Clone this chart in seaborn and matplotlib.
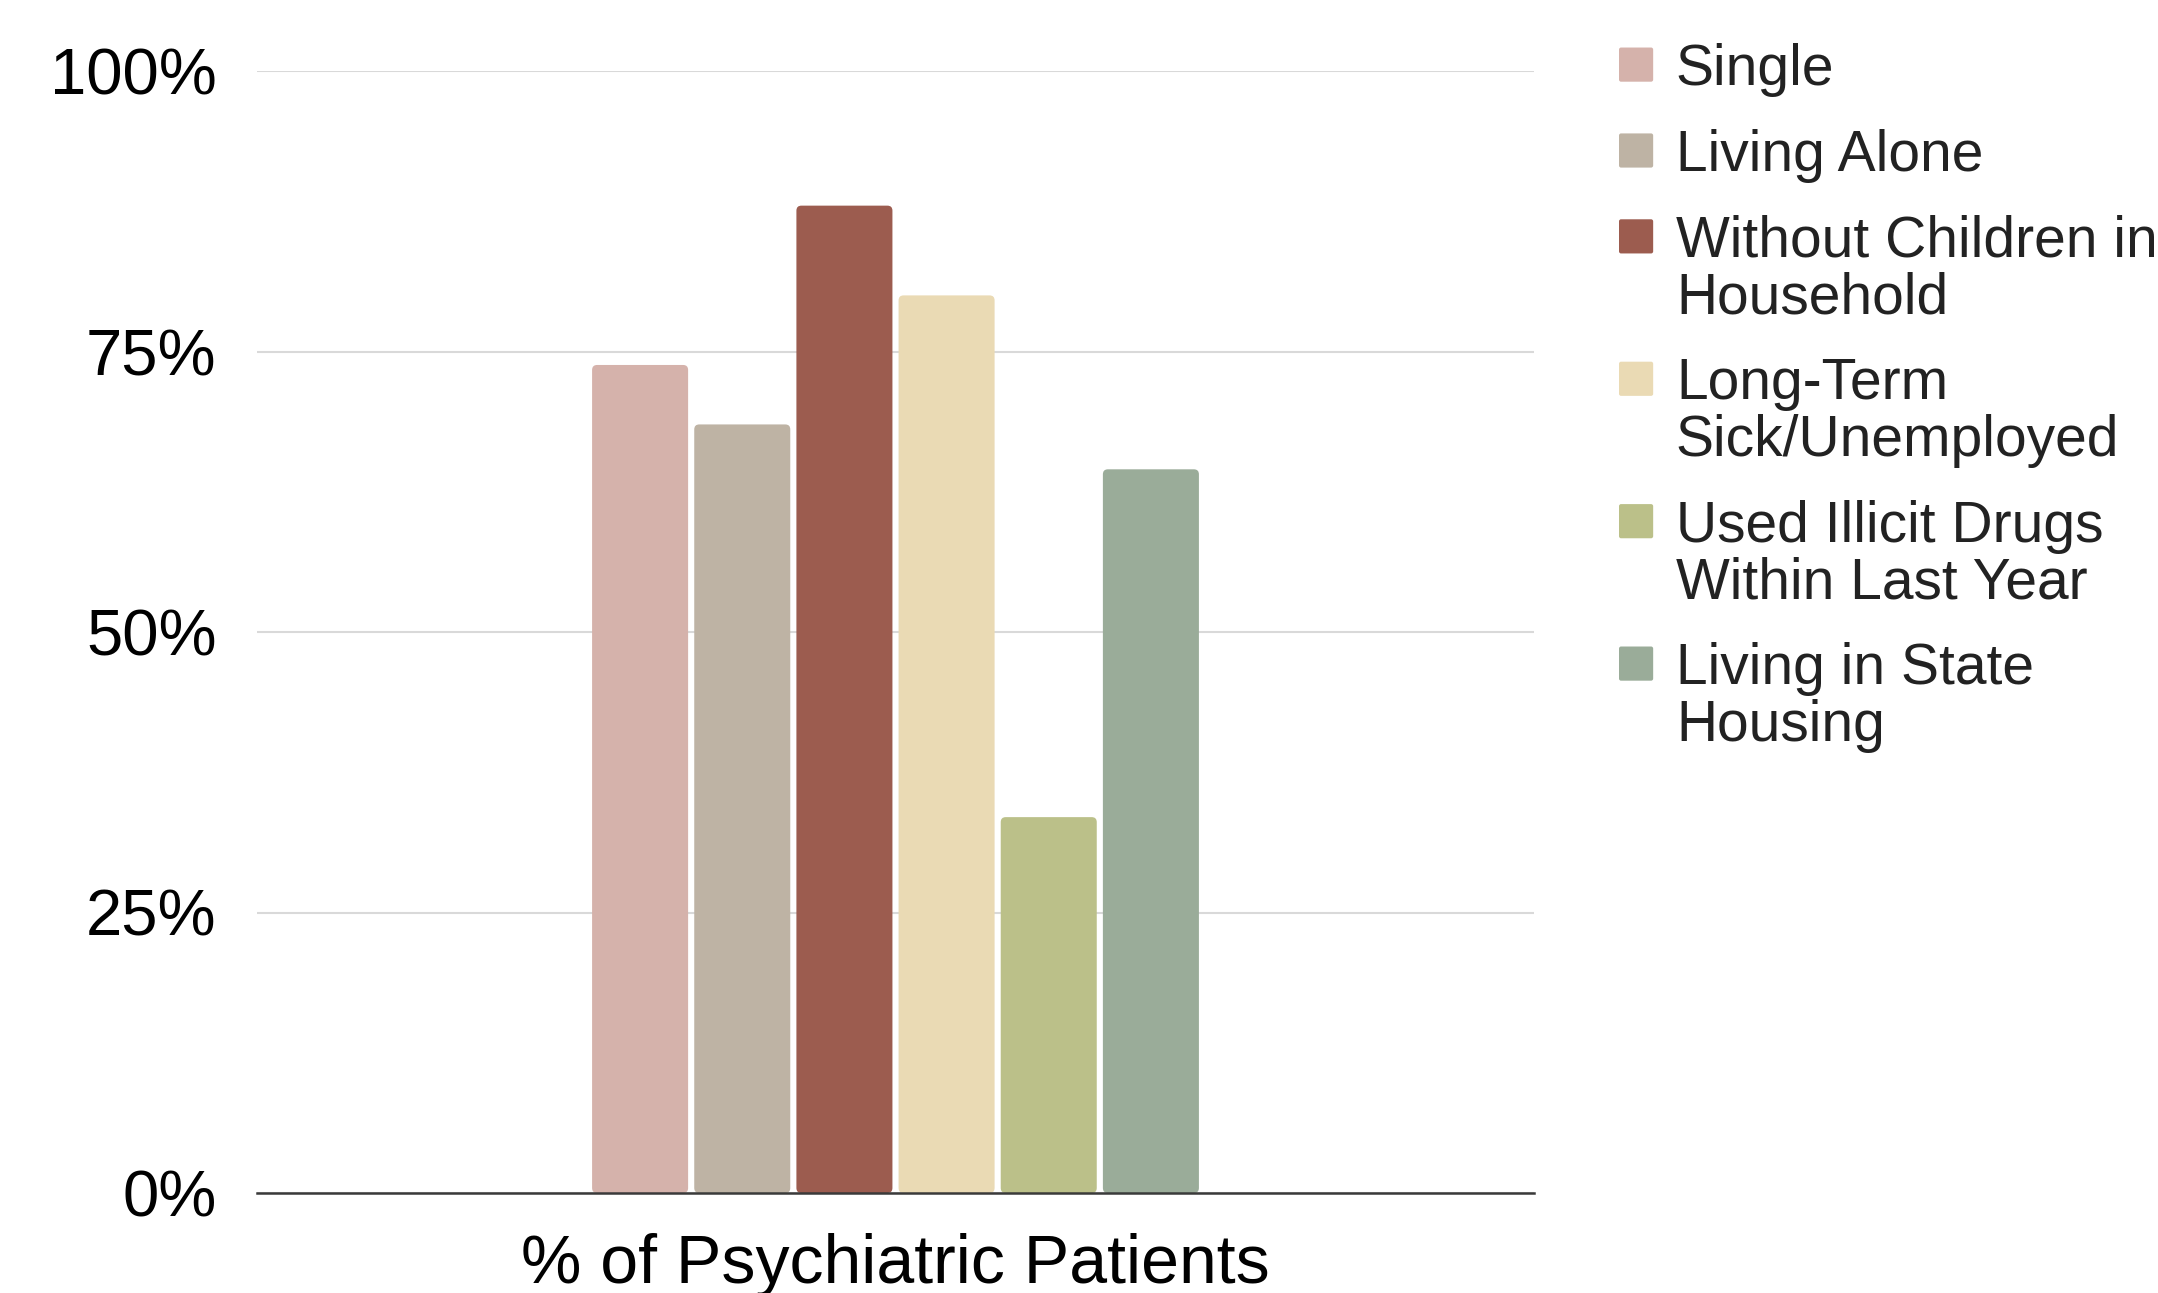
import matplotlib
matplotlib.use("Agg")
import matplotlib.pyplot as plt
import seaborn as sns
import pandas as pd
from matplotlib.patches import FancyBboxPatch
from matplotlib.legend_handler import HandlerBase
from matplotlib.ticker import FuncFormatter

# Share of psychiatric patients with each characteristic (%)
categories = [
    "Single",
    "Living Alone",
    "Without Children in\nHousehold",
    "Long-Term\nSick/Unemployed",
    "Used Illicit Drugs\nWithin Last Year",
    "Living in State\nHousing",
]
values = [73.8, 68.5, 88.0, 80.0, 33.5, 64.5]
group_label = "% of Psychiatric Patients"
colors = ["#d5b2ab", "#beb3a4", "#9c5c4f", "#eadab4", "#bbc089", "#9aac99"]
y_ticks = [0, 25, 50, 75, 100]

df = pd.DataFrame({"group": [group_label] * len(categories),
                   "category": categories,
                   "value": values})

sns.set_style("white")
plt.rcParams["font.family"] = ["Liberation Sans", "DejaVu Sans"]

W, H = 2158, 1293
fig = plt.figure(figsize=(W / 100, H / 100), dpi=100)
ax = fig.add_axes([257 / W, 1 - 1193 / H, (1534 - 257) / W, (1193 - 71) / H])

sns.barplot(data=df, x="group", y="value", hue="category",
            hue_order=categories, palette=colors, width=0.48, gap=0.06,
            saturation=1, ax=ax, legend=False, zorder=2)

ax.set_xlim(-0.5, 0.5)
ax.set_ylim(0, 100)

# swap plain rectangles for ones with slightly rounded corners
px_x = (1534 - 257) / 1.0
px_y = (1193 - 71) / 100.0
aspect = px_x / px_y
bars = list(ax.patches)
for bar, color in zip(bars, colors):
    x, y = bar.get_x(), bar.get_y()
    w, h = bar.get_width(), bar.get_height()
    bar.remove()
    ax.add_patch(FancyBboxPatch((x, y), w, h,
                                boxstyle=f"round,pad=0,rounding_size={5 / px_x}",
                                mutation_aspect=aspect,
                                facecolor=color, edgecolor="none", zorder=2))

# axes styling
ax.set_yticks(y_ticks)
ax.yaxis.set_major_formatter(FuncFormatter(lambda v, _: f"{v:.0f}%"))
ax.grid(axis="y", color="#d9d9d9", linewidth=1.5, zorder=0)
ax.grid(axis="x", visible=False)
ax.set_axisbelow(True)
for side in ["left", "right", "top"]:
    ax.spines[side].set_visible(False)
ax.spines["bottom"].set_color("#3a3a3a")
ax.spines["bottom"].set_linewidth(1.8)
ax.spines["bottom"].set_zorder(5)
ax.tick_params(axis="y", length=0, pad=29, labelsize=47, labelcolor="#000000")
ax.tick_params(axis="x", length=0, pad=29, labelsize=49, labelcolor="#000000")
ax.set_xlabel("")
ax.set_ylabel("")


class SquareHandler(HandlerBase):
    """Legend swatch aligned with the first line of a (possibly wrapped) label."""

    def __init__(self, lift):
        super().__init__()
        self.lift = lift

    def create_artists(self, legend, orig_handle, xdescent, ydescent,
                       width, height, fontsize, trans):
        side = width
        cy = 0.358 * fontsize + self.lift
        patch = FancyBboxPatch((-xdescent, cy - side / 2), side, side,
                               boxstyle="round,pad=0,rounding_size=1.5",
                               facecolor=orig_handle.get_facecolor(),
                               edgecolor="none", transform=trans)
        return [patch]


legend_fs = 41
line_pitch_pt = 56.5 * 0.72
# wrapped labels are centred on their handle, so raise the swatch to line one
handles = [plt.Rectangle((0, 0), 1, 1, facecolor=c) for c in colors]
handler_map = {h: SquareHandler(0.5 * lab.count("\n") * (line_pitch_pt + 0.212 * legend_fs))
               for h, lab in zip(handles, categories)}
leg = fig.legend(handles, categories, handler_map=handler_map,
                 loc="upper left", bbox_to_anchor=(1619 / W, 1 - 43 / H),
                 frameon=False, fontsize=legend_fs, borderpad=0,
                 borderaxespad=0, handlelength=0.6, handleheight=0.6,
                 handletextpad=0.4, labelspacing=0.56)
for t in leg.get_texts():
    t.set_color("#222222")
    t.set_linespacing(1.06)

fig.savefig("out.png", dpi=100, facecolor="white")
